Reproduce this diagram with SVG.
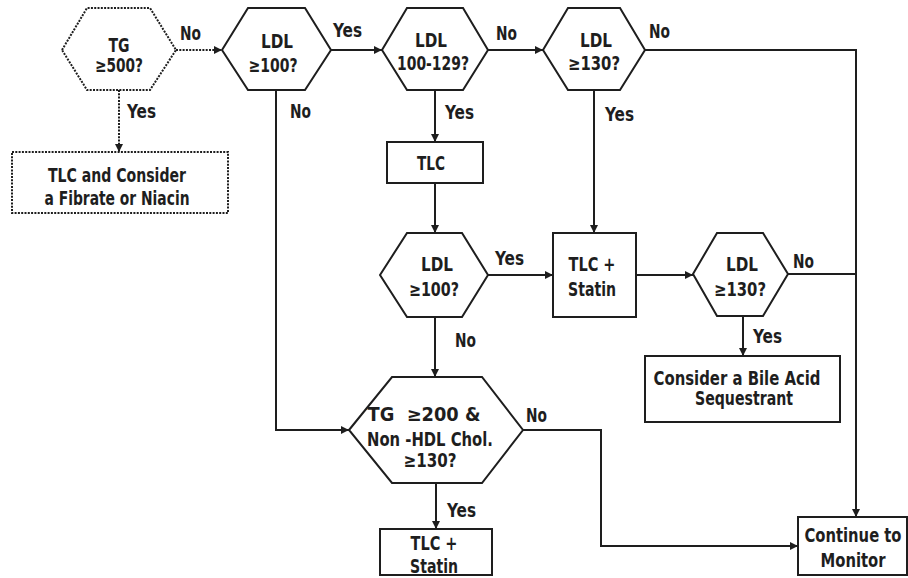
<svg xmlns="http://www.w3.org/2000/svg" width="908" height="578" viewBox="0 0 908 578">
<defs>
<marker id="arr" viewBox="0 0 10 10" refX="10" refY="5" markerWidth="9" markerHeight="8" markerUnits="userSpaceOnUse" orient="auto">
<path d="M0,0 L10,5 L0,10 z" fill="#1e1e1e"/>
</marker>
</defs>
<style>
.s{fill:#fff;stroke:#1e1e1e;stroke-width:2}
.d{stroke-dasharray:2 1.3}
.c{fill:none;stroke:#1e1e1e;stroke-width:2}
.a{marker-end:url(#arr)}
text{font-family:"Liberation Sans Narrow","Arial Narrow","DejaVu Sans Condensed",sans-serif;font-weight:bold;font-size:19px;fill:#1e1e1e}
.m{text-anchor:middle}
</style>
<rect width="908" height="578" fill="#fff"/>
<g id="connectors">
<path class="c d a" d="M176,50 H222"/>
<path class="c d a" d="M119,90 V152"/>
<path class="c a" d="M331,50 H382"/>
<path class="c a" d="M276,90 V430 H349"/>
<path class="c a" d="M488,50 H543"/>
<path class="c a" d="M645,50 H856 V517"/>
<path class="c a" d="M435,90 V142"/>
<path class="c a" d="M435,183 V233"/>
<path class="c a" d="M594,90 V233"/>
<path class="c a" d="M488,275 H553"/>
<path class="c a" d="M435,317 V377"/>
<path class="c a" d="M636,275 H693"/>
<path class="c" d="M788,274 H856"/>
<path class="c a" d="M743,316 V356"/>
<path class="c a" d="M523,430 H601 V546 H798"/>
<path class="c a" d="M436,483 V529"/>
<text x="180" y="40" textLength="21" lengthAdjust="spacingAndGlyphs">No</text>
<text x="127" y="118" textLength="29" lengthAdjust="spacingAndGlyphs">Yes</text>
<text x="290" y="118" textLength="21" lengthAdjust="spacingAndGlyphs">No</text>
<text x="333" y="37" textLength="29" lengthAdjust="spacingAndGlyphs">Yes</text>
<text x="496" y="40" textLength="21" lengthAdjust="spacingAndGlyphs">No</text>
<text x="445" y="119" textLength="29" lengthAdjust="spacingAndGlyphs">Yes</text>
<text x="605" y="121" textLength="29" lengthAdjust="spacingAndGlyphs">Yes</text>
<text x="649" y="38" textLength="21" lengthAdjust="spacingAndGlyphs">No</text>
<text x="495" y="265" textLength="29" lengthAdjust="spacingAndGlyphs">Yes</text>
<text x="455" y="347" textLength="21" lengthAdjust="spacingAndGlyphs">No</text>
<text x="793" y="268" textLength="21" lengthAdjust="spacingAndGlyphs">No</text>
<text x="753" y="343" textLength="29" lengthAdjust="spacingAndGlyphs">Yes</text>
<text x="526" y="422" textLength="21" lengthAdjust="spacingAndGlyphs">No</text>
<text x="447" y="517" textLength="29" lengthAdjust="spacingAndGlyphs">Yes</text>
</g>
<g id="tg500">
<polygon class="s d" points="62,50 87,8 150,8 176,50 150,90 87,90"/>
<text class="m" x="119" y="52" textLength="21" lengthAdjust="spacingAndGlyphs">TG</text>
<text class="m" x="119" y="72" textLength="48" lengthAdjust="spacingAndGlyphs">≥500?</text>
</g>
<g id="tlc-fibrate">
<rect class="s d" x="12" y="152" width="216" height="61"/>
<text class="m" x="117" y="182" textLength="138" lengthAdjust="spacingAndGlyphs">TLC and Consider</text>
<text class="m" x="117" y="205" textLength="145" lengthAdjust="spacingAndGlyphs">a Fibrate or Niacin</text>
</g>
<g id="ldl100a">
<polygon class="s" points="222,50 248,8 305,8 331,50 305,90 248,90"/>
<text class="m" x="277" y="48" textLength="32" lengthAdjust="spacingAndGlyphs">LDL</text>
<text class="m" x="273" y="72" textLength="49" lengthAdjust="spacingAndGlyphs">≥100?</text>
</g>
<g id="ldl100-129">
<polygon class="s" points="382,50 407,8 463,8 488,50 463,90 407,90"/>
<text class="m" x="431" y="47" textLength="32" lengthAdjust="spacingAndGlyphs">LDL</text>
<text class="m" x="433" y="70" textLength="72" lengthAdjust="spacingAndGlyphs">100-129?</text>
</g>
<g id="ldl130a">
<polygon class="s" points="543,50 568,8 620,8 645,50 620,90 568,90"/>
<text class="m" x="596" y="47" textLength="32" lengthAdjust="spacingAndGlyphs">LDL</text>
<text class="m" x="594" y="70" textLength="52" lengthAdjust="spacingAndGlyphs">≥130?</text>
</g>
<g id="tlc">
<rect class="s" x="387" y="142" width="96" height="41"/>
<text class="m" x="431" y="170" textLength="28" lengthAdjust="spacingAndGlyphs">TLC</text>
</g>
<g id="ldl100b">
<polygon class="s" points="380,275 407,233 462,233 488,275 462,317 407,317"/>
<text class="m" x="437" y="271" textLength="32" lengthAdjust="spacingAndGlyphs">LDL</text>
<text class="m" x="434" y="296" textLength="50" lengthAdjust="spacingAndGlyphs">≥100?</text>
</g>
<g id="tlc-statin-a">
<rect class="s" x="553" y="233" width="83" height="84"/>
<text class="m" x="592" y="271" textLength="47" lengthAdjust="spacingAndGlyphs">TLC +</text>
<text class="m" x="592" y="296" textLength="48" lengthAdjust="spacingAndGlyphs">Statin</text>
</g>
<g id="ldl130b">
<polygon class="s" points="693,274 717,233 763,233 788,274 763,316 717,316"/>
<text class="m" x="742" y="271" textLength="32" lengthAdjust="spacingAndGlyphs">LDL</text>
<text class="m" x="740" y="296" textLength="52" lengthAdjust="spacingAndGlyphs">≥130?</text>
</g>
<g id="bile">
<rect class="s" x="645" y="356" width="195" height="66"/>
<text class="m" x="737" y="385" textLength="167" lengthAdjust="spacingAndGlyphs">Consider a Bile Acid</text>
<text class="m" x="744" y="405" textLength="98" lengthAdjust="spacingAndGlyphs">Sequestrant</text>
</g>
<g id="tg200">
<polygon class="s" points="349,430 392,377 482,377 523,430 482,483 392,483"/>
<text class="m" x="424" y="421" xml:space="preserve" textLength="113" lengthAdjust="spacingAndGlyphs">TG  ≥200 &amp;</text>
<text class="m" x="430" y="446" textLength="126" lengthAdjust="spacingAndGlyphs">Non -HDL Chol.</text>
<text class="m" x="430" y="467" textLength="53" lengthAdjust="spacingAndGlyphs">≥130?</text>
</g>
<g id="tlc-statin-b">
<rect class="s" x="380" y="529" width="112" height="46"/>
<text class="m" x="434" y="550" textLength="47" lengthAdjust="spacingAndGlyphs">TLC +</text>
<text class="m" x="434" y="573" textLength="48" lengthAdjust="spacingAndGlyphs">Statin</text>
</g>
<g id="monitor">
<rect class="s" x="798" y="517" width="109" height="58"/>
<text class="m" x="853" y="542" textLength="97" lengthAdjust="spacingAndGlyphs">Continue to</text>
<text class="m" x="853" y="567" textLength="65" lengthAdjust="spacingAndGlyphs">Monitor</text>
</g>
</svg>
